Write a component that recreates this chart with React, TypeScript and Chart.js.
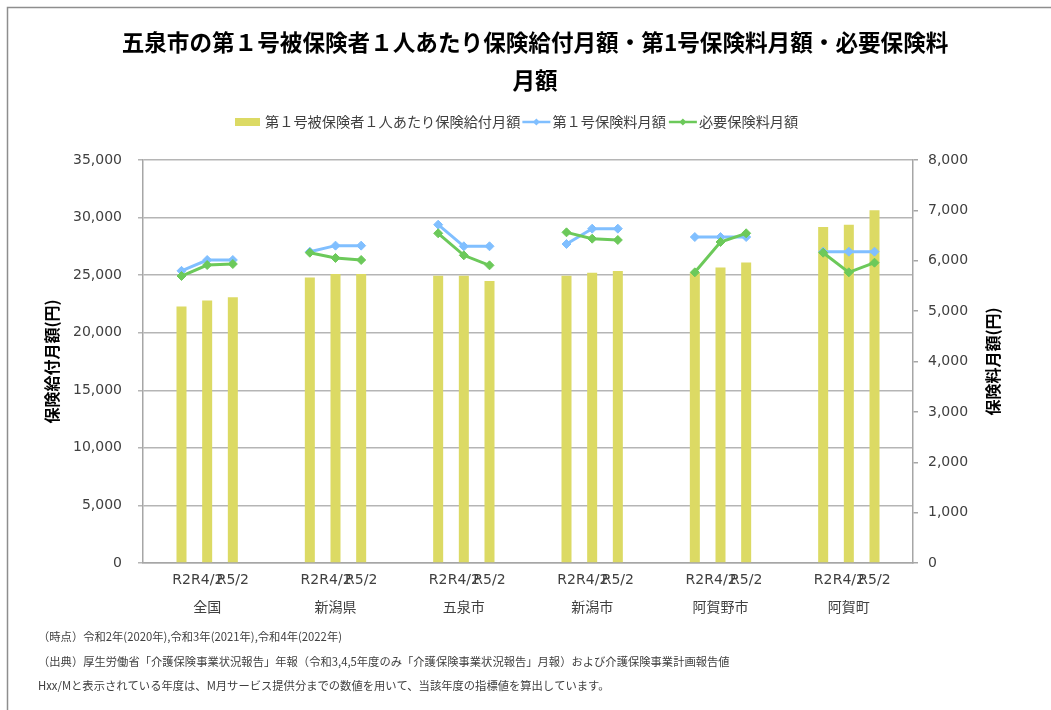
import React, { useEffect, useRef } from 'react';
import { Chart, registerables } from 'chart.js';

Chart.register(...registerables);

const FONT_JP = "'Noto Sans CJK JP', sans-serif";
const FONT_NUM = "'DejaVu Sans', 'Noto Sans CJK JP', sans-serif";

const chartTitleLines = [
  '五泉市の第１号被保険者１人あたり保険給付月額・第1号保険料月額・必要保険料',
  '月額',
];
const regions = ['全国', '新潟県', '五泉市', '新潟市', '阿賀野市', '阿賀町'];
const periods = ['R2', 'R4/2', 'R5/2'];
const seriesNames = ['第１号被保険者１人あたり保険給付月額', '第１号保険料月額', '必要保険料月額'];

// 第1号被保険者1人あたり保険給付月額 (left axis, 円)
const benefitPerInsured = [
  22270, 22790, 23080,
  24800, 25100, 25100,
  24950, 24950, 24500,
  24950, 25200, 25370,
  25200, 25660, 26090,
  29190, 29370, 30640,
];
// 第1号保険料月額 (right axis, 円)
const premiumMonthly = [
  5800, 6015, 6015,
  6180, 6300, 6300,
  6716, 6287, 6287,
  6332, 6637, 6637,
  6471, 6471, 6471,
  6180, 6180, 6180,
];
// 必要保険料月額 (right axis, 円)
const requiredPremium = [
  5697, 5915, 5935,
  6160, 6055, 6015,
  6545, 6108, 5909,
  6564, 6438, 6412,
  5770, 6372, 6545,
  6160, 5770, 5962,
];

const leftAxisTitle = '保険給付月額(円)';
const rightAxisTitle = '保険料月額(円)';
const leftAxisMax = 35000;
const leftAxisStep = 5000;
const rightAxisMax = 8000;
const rightAxisStep = 1000;

const footnotes = [
  '（時点）令和2年(2020年),令和3年(2021年),令和4年(2022年)',
  '（出典）厚生労働省「介護保険事業状況報告」年報（令和3,4,5年度のみ「介護保険事業状況報告」月報）および介護保険事業計画報告値',
  'Hxx/Mと表示されている年度は、M月サービス提供分までの数値を用いて、当該年度の指標値を算出しています。',
];

const BAR_COLOR = '#DCDA64';
const BLUE = '#80BFFF';
const GREEN = '#6CC95A';

// Each region occupies 5 slots: gap, 3 periods, gap
function buildLabels() {
  const out: (string | string[])[] = [];
  regions.forEach((r) => {
    out.push('');
    out.push(periods[0]);
    out.push([periods[1], r]);
    out.push(periods[2]);
    out.push('');
  });
  return out;
}
function spread(values: number[]) {
  const out: (number | null)[] = [];
  regions.forEach((_, gi) => {
    out.push(null);
    for (let k = 0; k < periods.length; k++) out.push(values[gi * periods.length + k]);
    out.push(null);
  });
  return out;
}

function drawDiamond(ctx: CanvasRenderingContext2D, x: number, y: number, r: number, color: string) {
  ctx.fillStyle = color;
  ctx.beginPath();
  ctx.moveTo(x, y - r);
  ctx.lineTo(x + r, y);
  ctx.lineTo(x, y + r);
  ctx.lineTo(x - r, y);
  ctx.closePath();
  ctx.fill();
}

const decorPlugin = {
  id: 'decor',
  afterDraw(chart: any) {
    const ctx: CanvasRenderingContext2D = chart.ctx;
    const area = chart.chartArea;
    ctx.save();
    // outer frame
    ctx.strokeStyle = '#8e8e8e';
    ctx.lineWidth = 1.5;
    ctx.beginPath();
    ctx.moveTo(7.5, 710);
    ctx.lineTo(7.5, 7.5);
    ctx.lineTo(1051, 7.5);
    ctx.stroke();

    // title
    ctx.fillStyle = '#000000';
    ctx.font = `bold 22.6px ${FONT_JP}`;
    ctx.textAlign = 'center';
    ctx.textBaseline = 'middle';
    ctx.fillText(chartTitleLines[0], 535, 42);
    ctx.fillText(chartTitleLines[1], 535, 80);

    // legend
    const ly = 122;
    let x = 235;
    ctx.font = `14.2px ${FONT_JP}`;
    ctx.textAlign = 'left';
    ctx.fillStyle = BAR_COLOR;
    ctx.fillRect(x, ly - 4, 25, 8);
    x += 30;
    ctx.fillStyle = '#404040';
    ctx.fillText(seriesNames[0], x, ly);
    x += ctx.measureText(seriesNames[0]).width + 2;
    const swatch = (color: string) => {
      ctx.strokeStyle = color;
      ctx.lineWidth = 2.5;
      ctx.beginPath();
      ctx.moveTo(x, ly);
      ctx.lineTo(x + 28, ly);
      ctx.stroke();
      drawDiamond(ctx, x + 14, ly, 3.5, color);
      x += 30;
    };
    swatch(BLUE);
    ctx.fillStyle = '#404040';
    ctx.fillText(seriesNames[1], x, ly);
    x += ctx.measureText(seriesNames[1]).width + 3;
    swatch(GREEN);
    ctx.fillStyle = '#404040';
    ctx.fillText(seriesNames[2], x, ly);

    // axis titles
    const cy = (area.top + area.bottom) / 2;
    ctx.fillStyle = '#000000';
    ctx.font = `bold 16px ${FONT_JP}`;
    ctx.textAlign = 'center';
    const titles: [number, string][] = [
      [52, leftAxisTitle],
      [993, rightAxisTitle],
    ];
    titles.forEach(([tx, t]) => {
      ctx.save();
      ctx.translate(tx, cy);
      ctx.rotate(-Math.PI / 2);
      ctx.fillText(t, 0, 0);
      ctx.restore();
    });

    // footnotes
    ctx.font = `11.3px ${FONT_JP}`;
    ctx.textAlign = 'left';
    ctx.fillStyle = '#404040';
    footnotes.forEach((t, i) => ctx.fillText(t, 38, 637 + i * 24.5));
    ctx.restore();
  },
};

export default function App() {
  const ref = useRef<HTMLCanvasElement | null>(null);
  useEffect(() => {
    document.body.style.margin = '0';
    const canvas = ref.current;
    if (!canvas) return;
    const chart = new Chart(canvas, {
      type: 'bar',
      data: {
        labels: buildLabels(),
        datasets: [
          {
            type: 'line',
            label: seriesNames[2],
            data: spread(requiredPremium),
            yAxisID: 'y1',
            borderColor: GREEN,
            backgroundColor: GREEN,
            borderWidth: 3,
            pointStyle: 'rectRot',
            pointRadius: 4.5,
            pointBorderWidth: 1,
            pointBackgroundColor: GREEN,
            pointBorderColor: GREEN,
            spanGaps: false,
            order: 1,
          } as any,
          {
            type: 'line',
            label: seriesNames[1],
            data: spread(premiumMonthly),
            yAxisID: 'y1',
            borderColor: BLUE,
            backgroundColor: BLUE,
            borderWidth: 3,
            pointStyle: 'rectRot',
            pointRadius: 4.5,
            pointBorderWidth: 1,
            pointBackgroundColor: BLUE,
            pointBorderColor: BLUE,
            spanGaps: false,
            order: 2,
          } as any,
          {
            type: 'bar',
            label: seriesNames[0],
            data: spread(benefitPerInsured),
            yAxisID: 'y',
            backgroundColor: BAR_COLOR,
            barPercentage: 0.39,
            categoryPercentage: 1,
            order: 3,
          } as any,
        ],
      },
      options: {
        responsive: false,
        animation: false,
        events: [],
        layout: { padding: { top: 160, bottom: 87, left: 0, right: 0 } },
        plugins: {
          legend: { display: false },
          title: { display: false },
          tooltip: { enabled: false },
        },
        scales: {
          x: {
            type: 'category',
            grid: { display: false, drawTicks: false },
            border: { display: true, color: '#a6a6a6', width: 1.5 },
            ticks: {
              autoSkip: false,
              maxRotation: 0,
              minRotation: 0,
              padding: 3,
              color: '#404040',
              font: { family: FONT_NUM, size: 14, lineHeight: 2 },
            },
            afterFit: (s: any) => {
              s.height = 60;
            },
          },
          y: {
            position: 'left',
            min: 0,
            max: leftAxisMax,
            ticks: {
              stepSize: leftAxisStep,
              padding: 16,
              color: '#404040',
              font: { family: FONT_NUM, size: 14 },
              callback: (v: any) => Number(v).toLocaleString('en-US'),
            },
            grid: { color: '#b5b5b5', lineWidth: 1.5, tickLength: 5, drawTicks: true },
            border: { display: true, color: '#a6a6a6', width: 1.5 },
            afterFit: (s: any) => {
              s.width = 143;
            },
          },
          y1: {
            position: 'right',
            min: 0,
            max: rightAxisMax,
            ticks: {
              stepSize: rightAxisStep,
              padding: 10,
              color: '#404040',
              font: { family: FONT_NUM, size: 14 },
              callback: (v: any) => Number(v).toLocaleString('en-US'),
            },
            grid: { drawOnChartArea: false, color: '#a6a6a6', lineWidth: 1.5, tickLength: 5 },
            border: { display: true, color: '#a6a6a6', width: 1.5 },
            afterFit: (s: any) => {
              s.width = 138;
            },
          },
        },
      } as any,
      plugins: [decorPlugin],
    });
    return () => chart.destroy();
  }, []);
  return (
    <canvas
      ref={ref}
      width={1051}
      height={710}
      style={{ display: 'block', width: 1051, height: 710 }}
    />
  );
}
